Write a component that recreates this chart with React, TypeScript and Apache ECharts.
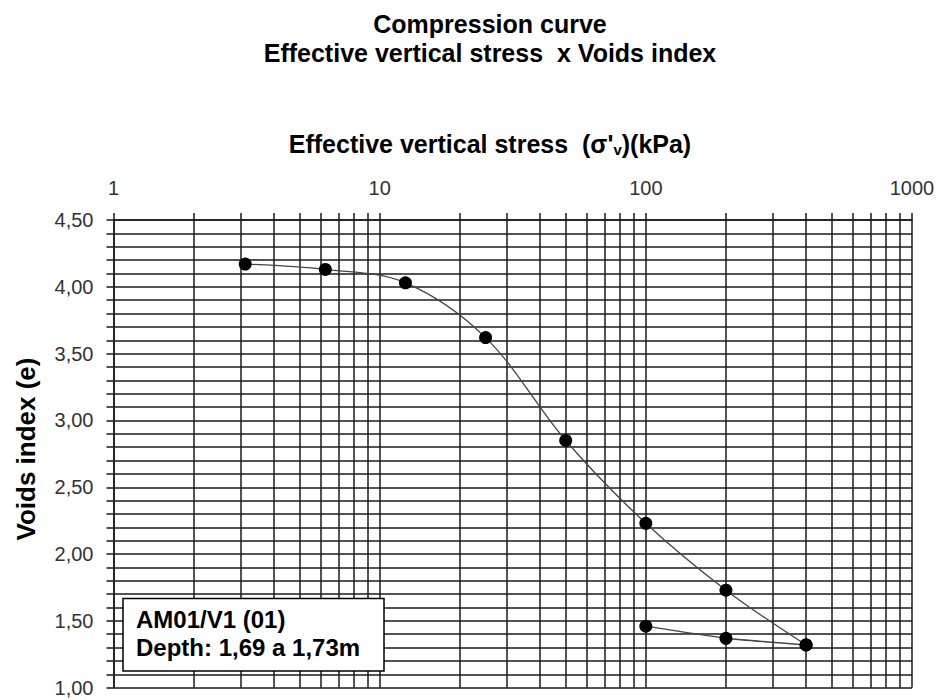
import React, { useEffect, useRef } from "react";
import * as echarts from "echarts";

const titleLines = ["Compression curve", "Effective vertical stress  x Voids index"];
const xAxisTitle = "Effective vertical stress";
const yAxisTitle = "Voids index (e)";
const sampleLines = ["AM01/V1 (01)", "Depth: 1,69 a 1,73m"];

const stressLoading = [3.125, 6.25, 12.5, 25, 50, 100, 200, 400];
const voidsLoading = [4.17, 4.13, 4.03, 3.62, 2.85, 2.23, 1.73, 1.32];
const stressUnloading = [400, 200, 100];
const voidsUnloading = [1.32, 1.37, 1.46];

const xTickValues = [
  1, 2, 3, 4, 5, 6, 7, 8, 9,
  10, 20, 30, 40, 50, 60, 70, 80, 90,
  100, 200, 300, 400, 500, 600, 700, 800, 900, 1000,
];
const xLabelValues = [1, 10, 100, 1000];
const yMin = 1;
const yMax = 4.5;
const yStep = 0.1;

const FONT = "'Liberation Sans', Arial, sans-serif";

export default function App() {
  const ref = useRef<HTMLDivElement>(null);
  useEffect(() => {
    document.body.style.margin = "0";
    const chart = echarts.init(ref.current!, null, { renderer: "svg" });
    const lineColor = "#1a1a1a";
    const option = {
      animation: false,
      textStyle: { fontFamily: FONT },
      grid: { left: 113.5, top: 220, right: 29, bottom: 12.3, containLabel: false },
      xAxis: {
        type: "log",
        logBase: 10,
        min: 1,
        max: 1000,
        position: "top",
        axisLine: { show: true, onZero: false, lineStyle: { color: lineColor, width: 1.5 } },
        axisTick: {
          show: true,
          inside: false,
          length: 7,
          customValues: xTickValues,
          lineStyle: { color: lineColor, width: 1.5 },
        },
        axisLabel: {
          show: true,
          customValues: xLabelValues,
          fontSize: 20,
          color: "#333",
          fontFamily: FONT,
          margin: 22,
          formatter: (v: number) => String(Math.round(v)),
        },
        splitLine: { show: true, lineStyle: { color: lineColor, width: 1.5 } },
        minorTick: { show: false },
        minorSplitLine: { show: false },
      },
      yAxis: {
        type: "value",
        min: yMin,
        max: yMax,
        interval: yStep,
        axisLine: { show: true, lineStyle: { color: lineColor, width: 1.5 } },
        axisTick: { show: true, length: 7, lineStyle: { color: lineColor, width: 1.5 } },
        axisLabel: {
          fontSize: 20,
          color: "#333",
          fontFamily: FONT,
          margin: 20,
          formatter: (v: number) => {
            const d = v * 2;
            return Math.abs(d - Math.round(d)) < 1e-6 ? v.toFixed(2).replace(".", ",") : "";
          },
        },
        splitLine: { show: true, lineStyle: { color: lineColor, width: 1.5 } },
      },
      series: [
        {
          type: "line",
          data: stressLoading.map((s, i) => [s, voidsLoading[i]]),
          smooth: 0.35,
          symbol: "circle",
          symbolSize: 13,
          itemStyle: { color: "#000" },
          lineStyle: { color: "#444", width: 1.3 },
          z: 5,
        },
        {
          type: "line",
          data: stressUnloading.map((s, i) => [s, voidsUnloading[i]]),
          smooth: 0.2,
          symbol: "circle",
          symbolSize: 13,
          itemStyle: { color: "#000" },
          lineStyle: { color: "#444", width: 1.3 },
          z: 5,
        },
      ],
      graphic: [
        {
          type: "text",
          x: 490,
          y: 24,
          style: {
            text: titleLines[0],
            font: `bold 25px ${FONT}`,
            fill: "#000",
            textAlign: "center",
            textVerticalAlign: "middle",
          },
        },
        {
          type: "text",
          x: 490,
          y: 53,
          style: {
            text: titleLines[1],
            font: `bold 25px ${FONT}`,
            fill: "#000",
            textAlign: "center",
            textVerticalAlign: "middle",
          },
        },
        {
          type: "text",
          x: 490,
          y: 144,
          style: {
            text: `{n|${xAxisTitle}  (σ'}{s|v}{n|)(kPa)}`,
            textAlign: "center",
            textVerticalAlign: "middle",
            fill: "#000",
            rich: {
              n: { font: `bold 25px ${FONT}`, fill: "#000", lineHeight: 30, verticalAlign: "middle" },
              s: { font: `bold 15px ${FONT}`, fill: "#000", lineHeight: 30, verticalAlign: "bottom", padding: [0, 0, 2, 0] },
            },
          },
        },
        {
          type: "text",
          x: 26,
          y: 449,
          rotation: Math.PI / 2,
          style: {
            text: yAxisTitle,
            font: `bold 26px ${FONT}`,
            fill: "#000",
            textAlign: "center",
            textVerticalAlign: "middle",
          },
        },
        {
          type: "rect",
          z: 100,
          shape: { x: 123, y: 598.5, width: 261, height: 72.5 },
          style: { fill: "#fff", stroke: "#000", lineWidth: 1.5 },
        },
        {
          type: "text",
          z: 101,
          x: 136,
          y: 619,
          style: {
            text: sampleLines[0],
            font: `bold 24px ${FONT}`,
            fill: "#000",
            textAlign: "left",
            textVerticalAlign: "middle",
          },
        },
        {
          type: "text",
          z: 101,
          x: 136,
          y: 647,
          style: {
            text: sampleLines[1],
            font: `bold 24px ${FONT}`,
            fill: "#000",
            textAlign: "left",
            textVerticalAlign: "middle",
          },
        },
      ],
    };
    chart.setOption(option as any);
    return () => chart.dispose();
  }, []);
  return (
    <div
      ref={ref}
      style={{ position: "absolute", left: 0, top: 0, width: 941, height: 700, background: "#fff" }}
    />
  );
}
